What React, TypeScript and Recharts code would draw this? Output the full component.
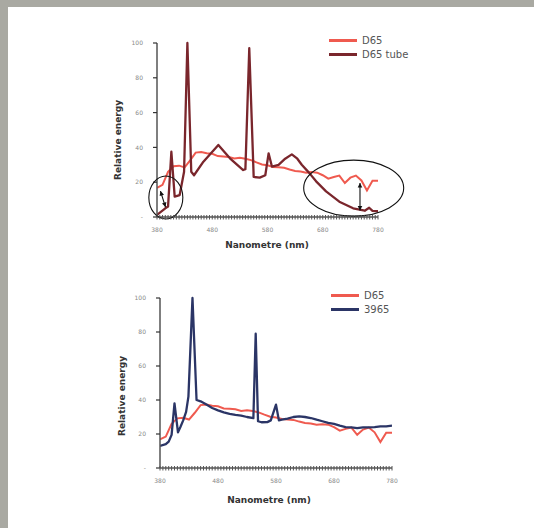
import React from 'react';
import {
  LineChart,
  Line,
  XAxis,
  YAxis,
  Legend,
  ReferenceDot,
  ReferenceLine,
} from 'recharts';

// D65 daylight, read every 10 nm
const d65Wavelength = [
  380, 390, 400, 410, 420, 430, 440, 450, 460, 470, 480, 490, 500, 510, 520, 530, 540,
  550, 560, 570, 580, 590, 600, 610, 620, 630, 640, 650, 660, 670, 680, 690, 700, 710,
  720, 730, 740, 750, 760, 770, 780,
];
const d65Energy = [
  16.8, 18.5, 26, 29.2, 29.5, 28.5, 32.5, 37, 37.3, 36.6, 36.3, 35, 34.8, 34.5, 33.6, 34,
  33.5, 32.7, 31.4, 30.2, 29.7, 28.8, 28.6, 28.3, 27.3, 26.5, 26.2, 25.5, 25.8, 25.5, 24,
  22, 23, 23.8, 19.5, 22.6, 23.8, 21, 15.3, 20.8, 20.8,
];

// D65 tube (fluorescent), points read at the corners of the curve
const tubeWavelength = [
  380, 395, 400, 406, 412, 421, 429, 435, 442, 447, 464, 491, 512, 536, 540, 547, 555,
  566, 576, 582, 588, 600, 612, 624, 634, 642, 655, 668, 686, 710, 735, 756, 764, 770, 780,
];
const tubeEnergy = [
  1.2, 5, 6, 37.5, 11.7, 12.6, 26, 100, 26, 24, 31.8, 41.4, 33.7, 27, 27.5, 97, 23,
  22.6, 24, 36.6, 29, 30, 33.5, 36, 33.5, 30, 25.5, 20.5, 14.7, 8.8, 5, 3.6, 5.3, 3.5, 3.3,
];

// 3965 lamp
const lampWavelength = [
  380, 390, 395, 400, 405, 411, 415, 420, 425, 429, 436, 443, 450, 460, 470, 480, 490,
  500, 510, 520, 530, 541, 545, 549, 555, 565, 571, 580, 585, 590, 600, 610, 620, 630,
  640, 650, 660, 670, 680, 690, 700, 710, 720, 730, 740, 750, 760, 770, 780,
];
const lampEnergy = [
  13, 14, 15.5, 19.5, 38, 21, 24, 28, 33, 42, 100, 40, 39.2, 37.3, 35.3, 33.9, 32.7,
  31.8, 31.2, 30.8, 30, 29.3, 79, 27.5, 26.9, 27, 28, 37.3, 28, 28.4, 29, 30, 30.4, 30,
  29.4, 28.4, 27.5, 26.5, 25.9, 24.9, 24.1, 23.9, 23.5, 23.9, 23.9, 24.1, 24.5, 24.5, 24.9,
];

const xLabels = [380, 480, 580, 680, 780];
const yTicks = [0, 20, 40, 60, 80, 100];

const toPoints = (nm: number[], energy: number[]) =>
  nm.map((w, i) => ({ nm: w, energy: energy[i] }));

const d65Data = toPoints(d65Wavelength, d65Energy);
const tubeData = toPoints(tubeWavelength, tubeEnergy);
const lampData = toPoints(lampWavelength, lampEnergy);

// one small tick every 5 nm
const minorTicks = Array.from({ length: 81 }, (_, i) => 380 + i * 5);

const FONT = '"DejaVu Sans", sans-serif';
const RED = '#ef5a4f';
const MAROON = '#7a262c';
const NAVY = '#2b3566';
const X_TICK_SIZE = 4;
const X_TICK_MARGIN = 7;

// x ticks drawn as a comb crossing the axis line, labels every 100 nm
const XTick = (p: any) => {
  const axisY = p.y - X_TICK_SIZE - X_TICK_MARGIN;
  const v = p.payload.value;
  return (
    <g>
      <line x1={p.x} x2={p.x} y1={axisY - 2} y2={axisY + 2.5} stroke="#555" strokeWidth={1} />
      {xLabels.includes(v) && (
        <text x={p.x} y={p.y} dy="0.71em" textAnchor="middle" fontSize={6} fill="#888">
          {v}
        </text>
      )}
    </g>
  );
};

const legendOrder = ['D65', 'D65 tube', '3965'];

const renderLegend = (props: any) => {
  const items = [...(props.payload || [])].sort(
    (a: any, b: any) => legendOrder.indexOf(a.value) - legendOrder.indexOf(b.value)
  );
  return (
    <div style={{ fontFamily: FONT, fontSize: 10, color: '#555' }}>
      {items.map((entry: any) => (
        <div key={entry.value} style={{ display: 'flex', alignItems: 'center', height: 13.8 }}>
          <span style={{ display: 'inline-block', width: 28, height: 3, background: entry.color, marginRight: 5 }} />
          <span>{entry.value}</span>
        </div>
      ))}
    </div>
  );
};

const ellipse = (rx: number, ry: number) => (p: any) => (
  <ellipse cx={p.cx} cy={p.cy} rx={rx} ry={ry} fill="none" stroke="#111" strokeWidth={1.1} />
);

const doubleArrow = (p: any) => {
  const { x1, y1, x2, y2 } = p;
  const a = Math.atan2(y2 - y1, x2 - x1);
  const head = (x: number, y: number, dir: number) => {
    const ang = a + dir;
    const l = 4.5;
    const w = 2.3;
    const bx = x - Math.cos(ang) * l;
    const by = y - Math.sin(ang) * l;
    const nx = -Math.sin(ang) * w;
    const ny = Math.cos(ang) * w;
    return `${x},${y} ${bx + nx},${by + ny} ${bx - nx},${by - ny}`;
  };
  return (
    <g>
      <line x1={x1} y1={y1} x2={x2} y2={y2} stroke="#111" strokeWidth={1.1} />
      <polygon points={head(x2, y2, 0)} fill="#111" />
      <polygon points={head(x1, y1, Math.PI)} fill="#111" />
    </g>
  );
};

const Title = ({ x, y, text, vertical }: { x: number; y: number; text: string; vertical?: boolean }) => (
  <div
    style={{
      position: 'absolute',
      left: x,
      top: y,
      transform: `translate(-50%, -50%)${vertical ? ' rotate(-90deg)' : ''}`,
      whiteSpace: 'nowrap',
      fontFamily: FONT,
      fontWeight: 'bold',
      fontSize: 9,
      color: '#333',
    }}
  >
    {text}
  </div>
);

const axes = (
  <>
    <XAxis
      dataKey="nm"
      type="number"
      domain={[380, 780]}
      allowDataOverflow
      ticks={minorTicks}
      interval={0}
      tick={<XTick />}
      tickSize={X_TICK_SIZE}
      tickMargin={X_TICK_MARGIN}
      tickLine={false}
      axisLine={{ stroke: '#555', strokeWidth: 1.5 }}
      height={30}
    />
    <YAxis
      type="number"
      domain={[0, 100]}
      ticks={yTicks}
      interval={0}
      tickFormatter={(v) => (v === 0 ? '-' : String(v))}
      width={30}
      tickSize={4}
      tickMargin={10}
      tick={{ fontSize: 6, fill: '#888' }}
      axisLine={{ stroke: '#555', strokeWidth: 1.5 }}
      tickLine={{ stroke: '#333', strokeWidth: 1.2 }}
    />
  </>
);

export default function App() {
  return (
    <div style={{ position: 'absolute', left: 0, top: 0, width: 534, height: 528, background: '#a9a9a2' }}>
      <div style={{ position: 'absolute', left: 8, top: 7, width: 526, height: 521, background: '#fff' }} />

      {/* upper chart: D65 vs D65 tube */}
      <div style={{ position: 'absolute', left: 0, top: 0, fontFamily: FONT }}>
        <LineChart width={534} height={260} margin={{ top: 43, right: 156, bottom: 13, left: 127 }}>
          {axes}
          <Legend
            layout="vertical"
            align="center"
            verticalAlign="middle"
            content={renderLegend}
            wrapperStyle={{ left: 329, top: 34, width: 120 }}
          />
          <Line data={d65Data} dataKey="energy" name="D65" type="linear" stroke={RED} strokeWidth={2} dot={false} isAnimationActive={false} />
          <Line data={tubeData} dataKey="energy" name="D65 tube" type="linear" stroke={MAROON} strokeWidth={2.3} strokeLinejoin="round" dot={false} isAnimationActive={false} />
          <ReferenceDot x={396} y={11.2} ifOverflow="visible" shape={ellipse(17, 21.5)} />
          <ReferenceDot x={736} y={16.6} ifOverflow="visible" shape={ellipse(50, 28)} />
          <ReferenceLine segment={[{ x: 386.3, y: 14.9 }, { x: 395.4, y: 5.7 }]} ifOverflow="visible" shape={doubleArrow} />
          <ReferenceLine segment={[{ x: 747.4, y: 19.5 }, { x: 747.4, y: 3.7 }]} ifOverflow="visible" shape={doubleArrow} />
        </LineChart>
      </div>
      <Title x={118} y={140} text="Relative energy" vertical />
      <Title x={267} y={245} text="Nanometre (nm)" />

      {/* lower chart: D65 vs 3965 */}
      <div style={{ position: 'absolute', left: 0, top: 255, fontFamily: FONT }}>
        <LineChart width={534} height={260} margin={{ top: 43, right: 142, bottom: 17, left: 130 }}>
          {axes}
          <Legend
            layout="vertical"
            align="center"
            verticalAlign="middle"
            content={renderLegend}
            wrapperStyle={{ left: 331, top: 34, width: 120 }}
          />
          <Line data={d65Data} dataKey="energy" name="D65" type="linear" stroke={RED} strokeWidth={2} dot={false} isAnimationActive={false} />
          <Line data={lampData} dataKey="energy" name="3965" type="linear" stroke={NAVY} strokeWidth={2.3} strokeLinejoin="round" dot={false} isAnimationActive={false} />
        </LineChart>
      </div>
      <Title x={121.5} y={395.5} text="Relative energy" vertical />
      <Title x={269} y={500} text="Nanometre (nm)" />
    </div>
  );
}
